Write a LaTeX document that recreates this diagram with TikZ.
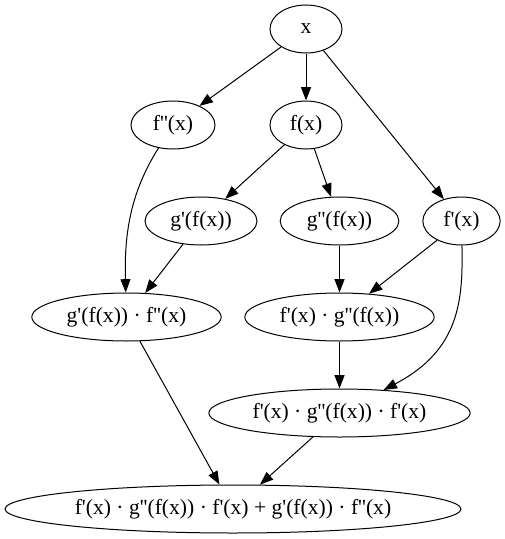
\documentclass[tikz,border=0pt]{standalone}
\usepackage{fontspec}
\setmainfont{Liberation Serif}[Ligatures=TeXOff]
\usetikzlibrary{shapes.geometric,arrows.meta}
\tikzset{
  gv/.style={draw, ellipse, line width=0.75pt, inner sep=0pt, minimum height=36pt, font=\fontsize{16.2}{18}\selectfont},
  edge/.style={line width=0.75pt, -{Triangle[length=10pt,width=7.5pt]}}
}
\begin{document}
\begin{tikzpicture}[x=0.75pt,y=-0.75pt]
\useasboundingbox (0,0) rectangle (505,539);
\node[gv, minimum width=54pt] (x) at (306,29) {x};
\node[gv, minimum width=63pt] (fpp) at (173,125) {f''(x)};
\node[gv, minimum width=54pt] (f) at (306,125) {f(x)};
\node[gv, minimum width=84pt] (gp) at (201,221) {g'(f(x))};
\node[gv, minimum width=89pt] (gpp) at (339.5,221) {g''(f(x))};
\node[gv, minimum width=58pt] (fp) at (461.5,221) {f'(x)};
\node[gv, minimum width=142pt] (gf) at (126.5,317) {g'(f(x)) · f''(x)};
\node[gv, minimum width=142pt] (fg) at (339.5,317) {f'(x) · g''(f(x))};
\node[gv, minimum width=196pt] (fgf) at (339.5,413) {f'(x) · g''(f(x)) · f'(x)};
\node[gv, minimum width=342pt] (all) at (233,509) {f'(x) · g''(f(x)) · f'(x) + g'(f(x)) · f''(x)};
\draw[edge] (x) -- (fpp);
\draw[edge] (x) -- (f);
\draw[edge] (x) -- (fp);
\draw[edge] (f) -- (gp);
\draw[edge] (f) -- (gpp);
\draw[edge] (fpp) .. controls (132,190) and (124,230) .. (gf);
\draw[edge] (gp) -- (gf);
\draw[edge] (gpp) -- (fg);
\draw[edge] (fp) -- (fg);
\draw[edge] (fp) .. controls (463,300) and (460,350) .. (fgf);
\draw[edge] (fg) -- (fgf);
\draw[edge] (gf) -- (all);
\draw[edge] (fgf) -- (all);
\end{tikzpicture}
\end{document}
